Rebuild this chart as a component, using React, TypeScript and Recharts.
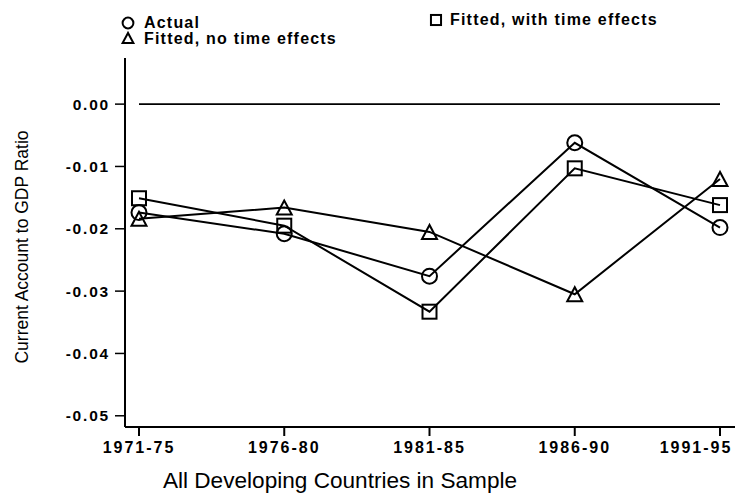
import React from 'react';
import { LineChart, Line, XAxis, YAxis, Legend, ReferenceLine, Label } from 'recharts';

// Period labels along the x axis
const periods = ['1971-75', '1976-80', '1981-85', '1986-90', '1991-95'];

// Current account / GDP
const actual = [-0.0174, -0.0208, -0.0276, -0.0062, -0.0198];
const fittedNoTime = [-0.0184, -0.0166, -0.0205, -0.0305, -0.012];
const fittedTime = [-0.0151, -0.0195, -0.0333, -0.0103, -0.0162];

const yTicks = [0, -0.01, -0.02, -0.03, -0.04, -0.05];

const data = periods.map((p, i) => ({
  period: p,
  actual: actual[i],
  noTime: fittedNoTime[i],
  withTime: fittedTime[i],
}));

const INK = '#000';
const FONT = '"Liberation Sans", Arial, sans-serif';

type Shape = 'circle' | 'triangle' | 'square';

const series: { key: string; name: string; shape: Shape }[] = [
  { key: 'actual', name: 'Actual', shape: 'circle' },
  { key: 'noTime', name: 'Fitted, no time effects', shape: 'triangle' },
  { key: 'withTime', name: 'Fitted, with time effects', shape: 'square' },
];

// Hollow marker drawn at a point
const Marker = ({ shape, cx, cy, s = 1 }: { shape: Shape; cx: number; cy: number; s?: number }) => {
  if (shape === 'circle') {
    return <circle cx={cx} cy={cy} r={7.5 * s} fill="none" stroke={INK} strokeWidth={2} />;
  }
  if (shape === 'square') {
    return <rect x={cx - 7 * s} y={cy - 7 * s} width={14 * s} height={14 * s} fill="none" stroke={INK} strokeWidth={2} />;
  }
  const h = 7 * s;
  const w = 7.5 * s;
  return (
    <polygon
      points={`${cx},${cy - h} ${cx - w},${cy + h} ${cx + w},${cy + h}`}
      fill="none"
      stroke={INK}
      strokeWidth={2}
      strokeLinejoin="miter"
    />
  );
};

const makeDot = (shape: Shape) => (props: any) => {
  const { cx, cy, index } = props;
  if (cx == null || cy == null) return <g key={`${shape}-${index}`} />;
  return (
    <g key={`${shape}-${index}`}>
      <Marker shape={shape} cx={cx} cy={cy} />
    </g>
  );
};

// x tick labels; the last one is pulled in so it stays on the page
const PeriodTick = (props: any) => {
  const { x, y, payload, index } = props;
  const last = index === periods.length - 1;
  return (
    <text
      x={last ? x - 24 : x}
      y={y}
      dy="0.71em"
      textAnchor="middle"
      fontFamily={FONT}
      fontSize={16}
      fontWeight="bold"
      letterSpacing={2}
      fill={INK}
    >
      {payload.value}
    </text>
  );
};

// Legend laid out like the original: two stacked on the left, one on the right
const LegendContent = () => {
  const spots = [
    { mx: 128, my: 23, tx: 144, ty: 28 },
    { mx: 128, my: 38, tx: 144, ty: 44 },
    { mx: 436, my: 20, tx: 450, ty: 25 },
  ];
  return (
    <svg width={737} height={52}>
      {series.map((s, i) => {
        const p = spots[i];
        return (
          <g key={s.key}>
            <Marker shape={s.shape} cx={p.mx} cy={p.my} s={0.72} />
            <text
              x={p.tx}
              y={p.ty}
              fontFamily={FONT}
              fontSize={16}
              fontWeight="bold"
              letterSpacing={1.2}
              fill={INK}
            >
              {s.name}
            </text>
          </g>
        );
      })}
    </svg>
  );
};

export default function App() {
  return (
    <div style={{ position: 'absolute', left: 0, top: 0, background: '#fff' }}>
      <LineChart
        width={737}
        height={496}
        data={data}
        margin={{ top: 58, right: 2, left: 0, bottom: 0 }}
      >
        <XAxis
          dataKey="period"
          height={69}
          padding={{ left: 14, right: 15 }}
          interval={0}
          axisLine={{ stroke: INK, strokeWidth: 2 }}
          tickLine={{ stroke: INK, strokeWidth: 2 }}
          tickSize={9}
          tickMargin={6}
          tick={<PeriodTick />}
        >
          <Label
            content={() => (
              <text x={340} y={488} textAnchor="middle" fontFamily={FONT} fontSize={22.6} fill={INK}>
                All Developing Countries in Sample
              </text>
            )}
          />
        </XAxis>
        <YAxis
          width={125}
          domain={[-0.0518, 0.0074]}
          ticks={yTicks}
          interval={0}
          tickFormatter={(v: number) => v.toFixed(2)}
          axisLine={{ stroke: INK, strokeWidth: 2 }}
          tickLine={{ stroke: INK, strokeWidth: 1.5 }}
          tickSize={10}
          tickMargin={5}
          tick={{ fill: INK, fontFamily: FONT, fontSize: 15.5, fontWeight: 'bold', letterSpacing: 1.8 }}
        >
          <Label
            content={() => (
              <text
                x={22}
                y={247}
                transform="rotate(-90 22 247)"
                textAnchor="middle"
                dominantBaseline="central"
                fontFamily={FONT}
                fontSize={17.5}
                fill={INK}
              >
                Current Account to GDP Ratio
              </text>
            )}
          />
        </YAxis>
        <Legend
          layout="horizontal"
          verticalAlign="middle"
          align="center"
          wrapperStyle={{ top: 0, left: 0, width: 737, height: 52 }}
          content={<LegendContent />}
        />
        <ReferenceLine
          segment={[
            { x: periods[0], y: 0 },
            { x: periods[periods.length - 1], y: 0 },
          ]}
          stroke={INK}
          strokeWidth={1.6}
        />
        {series.map((s) => (
          <Line
            key={s.key}
            type="linear"
            dataKey={s.key}
            name={s.name}
            stroke={INK}
            strokeWidth={2}
            dot={makeDot(s.shape)}
            activeDot={false}
            legendType="none"
            isAnimationActive={false}
          />
        ))}
      </LineChart>
    </div>
  );
}
